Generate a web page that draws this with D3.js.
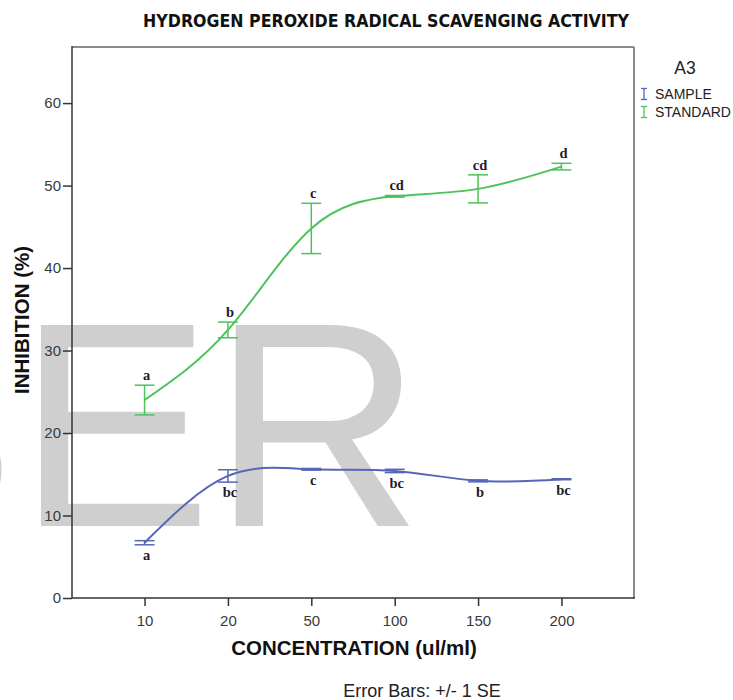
<!DOCTYPE html>
<html>
<head>
<meta charset="utf-8">
<script src="https://cdn.jsdelivr.net/npm/d3@7"></script>
<style>
  html, body { margin: 0; padding: 0; background: #fff; }
  svg { display: block; }
</style>
</head>
<body>
<svg id="chart" width="733" height="700"></svg>
<script>
// ---- data ----
const categories = ["10", "20", "50", "100", "150", "200"];
const sampleMean = [6.7, 14.8, 15.6, 15.4, 14.2, 14.4];
const sampleSE   = [0.25, 0.75, 0.1, 0.2, 0.12, 0.06];
const sampleLetters = ["a", "bc", "c", "bc", "b", "bc"];
const standardMean = [24.0, 32.5, 44.8, 48.7, 49.6, 52.3];
const standardSE   = [1.8, 0.95, 3.05, 0.1, 1.7, 0.4];
const standardLetters = ["a", "b", "c", "cd", "cd", "d"];
const yTicks = [0, 10, 20, 30, 40, 50, 60];
const seriesNames = ["SAMPLE", "STANDARD"];

const svg = d3.select("#chart");
const pLeft = 72, pRight = 634, pTop = 47, pBottom = 598;
const blue = "#5566b8", green = "#4cc35a";
const sans = "Liberation Sans, Arial, sans-serif";

const x = d3.scalePoint().domain(categories).range([pLeft, pRight]).padding(0.87);
const y = d3.scaleLinear().domain([0, 66.8]).range([pBottom, pTop]);

// watermark
svg.append("text")
  .attr("x", 17).attr("y", 526)
  .attr("text-anchor", "start")
  .attr("font-family", sans)
  .attr("font-size", 292)
  .attr("fill", "#cfcfcf")
  .text("ER");
svg.append("text")
  .attr("x", 17).attr("y", 526)
  .attr("text-anchor", "end")
  .attr("font-family", sans)
  .attr("font-size", 292)
  .attr("fill", "#cfcfcf")
  .text("B");

// frame
svg.append("line").attr("x1", pLeft).attr("x2", pRight).attr("y1", pTop).attr("y2", pTop)
  .attr("stroke", "#8a8a8a").attr("stroke-width", 2);
svg.append("line").attr("x1", pRight).attr("x2", pRight).attr("y1", pTop).attr("y2", pBottom)
  .attr("stroke", "#8a8a8a").attr("stroke-width", 2);

// axes
const yAxis = svg.append("g").attr("transform", `translate(${pLeft},0)`)
  .call(d3.axisLeft(y).tickValues(yTicks).tickSize(9).tickPadding(2).tickFormat(d3.format("d")));
const xAxis = svg.append("g").attr("transform", `translate(0,${pBottom})`)
  .call(d3.axisBottom(x).tickSize(8).tickPadding(9));
[yAxis, xAxis].forEach(g => {
  g.select(".domain").remove();
  g.selectAll("line").attr("stroke", "#333").attr("stroke-width", 1.5);
  g.selectAll("text").attr("font-family", sans)
    .attr("font-size", 15).attr("fill", "#3a3a3a");
});
svg.append("line").attr("x1", pLeft).attr("x2", pLeft).attr("y1", pTop - 1).attr("y2", pBottom)
  .attr("stroke", "#333").attr("stroke-width", 1.5);
svg.append("line").attr("x1", pLeft).attr("x2", pRight + 1).attr("y1", pBottom).attr("y2", pBottom)
  .attr("stroke", "#333").attr("stroke-width", 1.5);

// series
const series = [
  { name: seriesNames[0], mean: sampleMean, se: sampleSE, letters: sampleLetters, color: blue, below: true },
  { name: seriesNames[1], mean: standardMean, se: standardSE, letters: standardLetters, color: green, below: false }
];
const line = d3.line().x(d => x(d.c)).y(d => y(d.m)).curve(d3.curveNatural);
const capW = 10;

series.forEach(s => {
  const pts = categories.map((c, i) => ({ c, m: s.mean[i], e: s.se[i], l: s.letters[i] }));
  const g = svg.append("g");
  g.append("path").datum(pts).attr("d", line)
    .attr("fill", "none").attr("stroke", s.color).attr("stroke-width", 2);
  const eb = g.selectAll("g.eb").data(pts).join("g");
  eb.append("line").attr("x1", d => x(d.c)).attr("x2", d => x(d.c))
    .attr("y1", d => y(d.m - d.e)).attr("y2", d => y(d.m + d.e))
    .attr("stroke", s.color).attr("stroke-width", 1.5);
  eb.append("line").attr("x1", d => x(d.c) - capW).attr("x2", d => x(d.c) + capW)
    .attr("y1", d => y(d.m + d.e)).attr("y2", d => y(d.m + d.e))
    .attr("stroke", s.color).attr("stroke-width", 1.5);
  eb.append("line").attr("x1", d => x(d.c) - capW).attr("x2", d => x(d.c) + capW)
    .attr("y1", d => y(d.m - d.e)).attr("y2", d => y(d.m - d.e))
    .attr("stroke", s.color).attr("stroke-width", 1.5);
  g.selectAll("text.lbl").data(pts).join("text")
    .attr("x", d => x(d.c) + 2)
    .attr("y", d => s.below ? y(d.m - d.e) + 15 : y(d.m + d.e) - 5)
    .attr("text-anchor", "middle")
    .attr("font-family", "Liberation Serif, Times New Roman, serif")
    .attr("font-weight", "bold").attr("font-size", 14.5)
    .attr("fill", "#1c1c30")
    .text(d => d.l);
});

// titles
svg.append("text").attr("x", 386).attr("y", 27).attr("text-anchor", "middle")
  .attr("font-family", "DejaVu Sans Condensed, DejaVu Sans, sans-serif")
  .attr("font-stretch", "condensed").attr("font-weight", "bold")
  .attr("font-size", 17.6).attr("fill", "#111")
  .text("HYDROGEN PEROXIDE RADICAL SCAVENGING ACTIVITY");
svg.append("text").attr("x", 354).attr("y", 655).attr("text-anchor", "middle")
  .attr("font-family", sans).attr("font-weight", "bold")
  .attr("font-size", 20.5).attr("fill", "#111")
  .text("CONCENTRATION (ul/ml)");
svg.append("text").attr("transform", "translate(29,320) rotate(-90)").attr("text-anchor", "middle")
  .attr("font-family", sans).attr("font-weight", "bold")
  .attr("font-size", 20.5).attr("fill", "#111")
  .text("INHIBITION (%)");
svg.append("text").attr("x", 422).attr("y", 697).attr("text-anchor", "middle")
  .attr("font-family", sans)
  .attr("font-size", 18).attr("fill", "#222")
  .text("Error Bars: +/- 1 SE");

// legend
svg.append("text").attr("x", 685).attr("y", 74).attr("text-anchor", "middle")
  .attr("font-family", sans)
  .attr("font-size", 17.5).attr("fill", "#222").text("A3");
const leg = svg.append("g").selectAll("g").data(series).join("g")
  .attr("transform", (d, i) => `translate(644,${94 + i * 18})`);
leg.append("line").attr("x1", 0).attr("x2", 0).attr("y1", -5.5).attr("y2", 5.5).attr("stroke", d => d.color).attr("stroke-width", 1.3);
leg.append("line").attr("x1", -3).attr("x2", 3).attr("y1", -5.5).attr("y2", -5.5).attr("stroke", d => d.color).attr("stroke-width", 1.3);
leg.append("line").attr("x1", -3).attr("x2", 3).attr("y1", 5.5).attr("y2", 5.5).attr("stroke", d => d.color).attr("stroke-width", 1.3);
leg.append("text").attr("x", 11).attr("y", 5)
  .attr("font-family", sans)
  .attr("font-size", 14).attr("fill", "#222").text(d => d.name);
</script>
</body>
</html>
